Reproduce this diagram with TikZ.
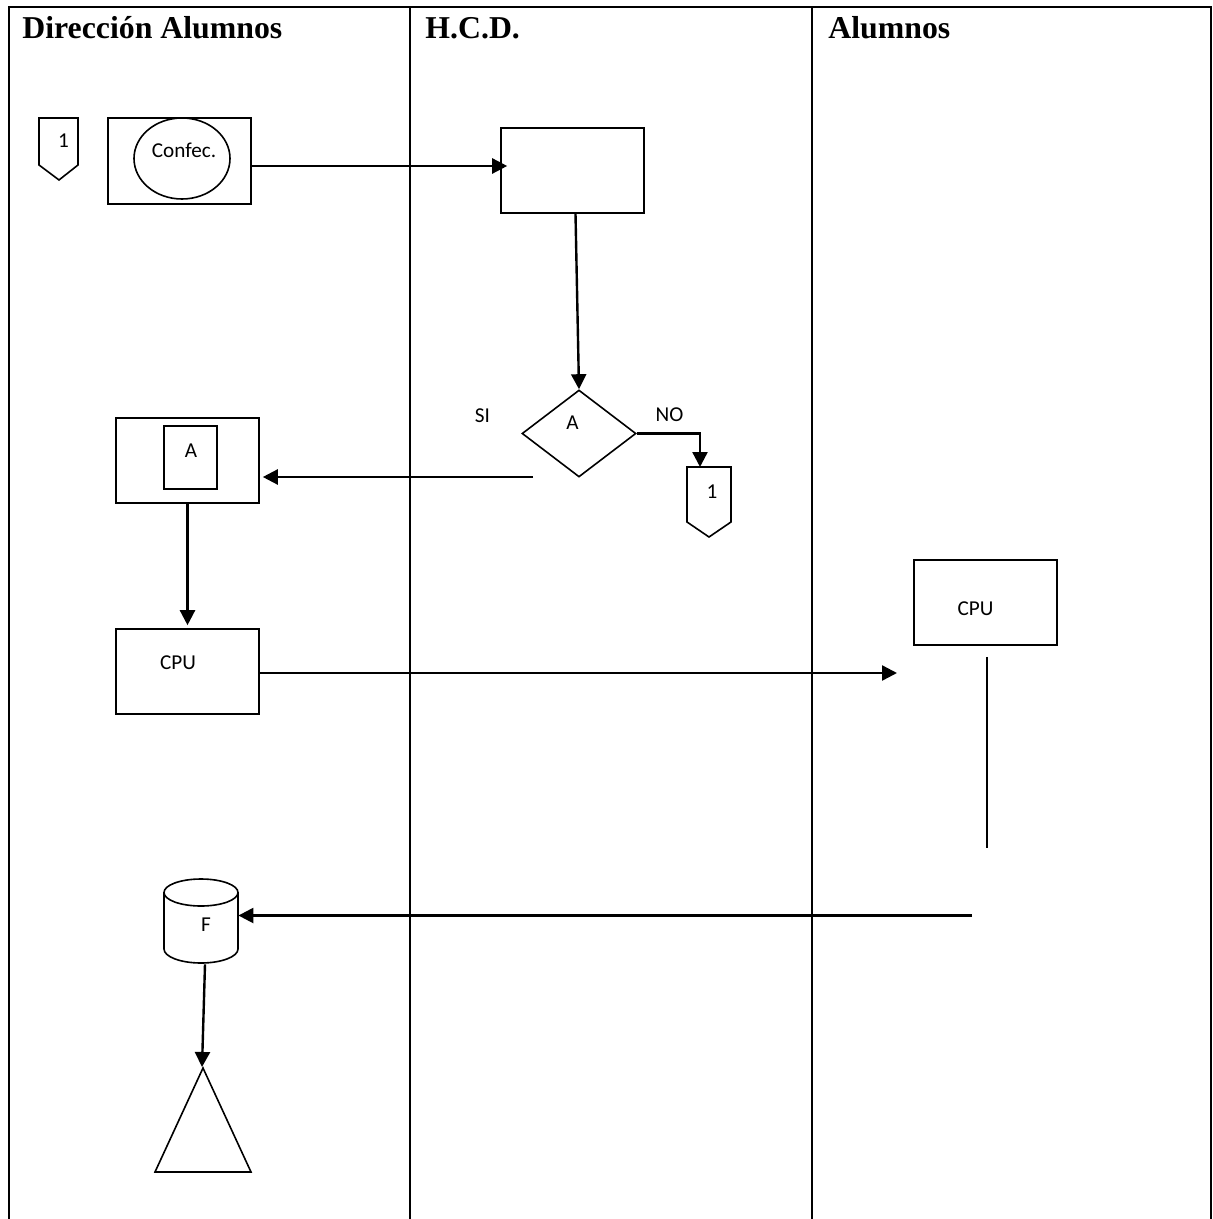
\documentclass[tikz,border=0pt]{standalone}
\usepackage{fontspec}
\setmainfont{Liberation Serif}
\newfontfamily\smallfont{Carlito}
\usetikzlibrary{arrows.meta,shapes.geometric,calc}
\begin{document}
\begin{tikzpicture}[x=0.5pt,y=-0.5pt,
  shp/.style={draw,line width=0.8pt,inner sep=0pt},
  frameline/.style={line width=1pt},
  conn/.style={line width=1.2pt,-{Triangle[length=7.5pt,width=7.5pt]}},
  plainline/.style={line width=0.8pt},
  lbl/.style={font=\smallfont\fontsize{10.6}{12}\selectfont,anchor=base,inner sep=0pt},
  lanetitle/.style={font=\bfseries\fontsize{15.9}{18}\selectfont,anchor=base west,inner sep=0pt}]
\useasboundingbox (0,0) rectangle (1213,1219);
% frame and lanes
\draw[frameline] (9,1219) -- (9,7) -- (1211,7) -- (1211,1219);
\draw[frameline] (410,7) -- (410,1219);
\draw[frameline] (812,7) -- (812,1219);
\node[lanetitle] (t1) at (22,39) {Dirección Alumnos};
\node[lanetitle] (t2) at (425,39) {H.C.D.};
\node[lanetitle] (t3) at (828,39) {Alumnos};
% off-page connector left
\draw[shp] (39,118) -- (78,118) -- (78,165) -- (59,180) -- (39,165) -- cycle;
\node[lbl] (one1) at (63.5,148) {1};
% Confec box
\node[shp, minimum width=71.5pt, minimum height=43pt] (confbox) at (179.5,161) {};
\node[shp, ellipse, minimum width=48pt, minimum height=40.5pt] (ell) at (182,158.5) {};
\node[lbl] (conftxt) at (184,158) {Confec.};
% HCD box
\node[shp, minimum width=71.5pt, minimum height=42.5pt] (hcd) at (572.5,170.5) {};
\draw[conn] ($(confbox.east)+(0,5)$) -- ($(hcd.west)+(7,-4.5)$);
% decision
\node[shp, diamond, minimum width=57pt, minimum height=43.5pt] (dia) at (579,433.5) {};
\node[lbl] (diatxt) at (572.5,429) {A};
\node[lbl] (si) at (482.5,422) {SI};
\node[lbl] (no) at (669.5,421) {NO};
\draw[conn] ($(hcd.south)+(3,0)$) -- (dia.north);
% off-page connector right
\draw[shp] (687,467) -- (731,467) -- (731,522) -- (709,537) -- (687,522) -- cycle;
\coordinate (off2n) at (700,467);
\node[lbl] (one2) at (712,498) {1};
\draw[conn] (dia.east) -| (off2n);
% box A
\node[shp, minimum width=71.5pt, minimum height=42.5pt] (boxA) at (187.5,460.5) {};
\node[shp, minimum width=26.5pt, minimum height=31.5pt] (innerA) at (190.5,457.5) {};
\node[lbl] (atxt) at (191,457) {A};
\coordinate (siStart) at (533,477);
\draw[conn] (siStart) -- ($(boxA.east)+(3,16.5)$);
% CPU left
\node[shp, minimum width=71.5pt, minimum height=42.5pt] (cpu1) at (187.5,671.5) {};
\node[lbl] (cpu1txt) at (178,669) {CPU};
\draw[conn] (boxA.south) -- ($(cpu1.north)+(0,-3)$);
\coordinate (cpuEnd) at (897,673);
\draw[conn] ($(cpu1.east)+(0,1.5)$) -- (cpuEnd);
% CPU right
\node[shp, minimum width=71.5pt, minimum height=42.5pt] (cpu2) at (985.5,602.5) {};
\node[lbl] (cpu2txt) at (975.5,615) {CPU};
\coordinate (vEnd) at (987,848);
\draw[plainline] ($(cpu2.south)+(1.5,11)$) -- (vEnd);
% cylinder F
\draw[shp] (164,892.5) -- (164,949) arc[start angle=180,end angle=0,x radius=37,y radius=14]
  -- (238,892.5);
\draw[shp] (201,892.5) ellipse[x radius=37,y radius=13.5];
\node[inner sep=0pt, minimum width=37pt, minimum height=42pt] (cyl) at (201,921) {};
\node[lbl] (ftxt) at (206,931) {F};
\coordinate (bStart) at (972,915.5);
\draw[conn] (bStart) -- (cyl.east |- bStart);
% triangle
\draw[shp] (203,1068) -- (251,1172) -- (155,1172) -- cycle;
\coordinate (triTop) at (202,1067);
\draw[conn] ($(cyl.south)+(4,1)$) -- (triTop);
\end{tikzpicture}
\end{document}
